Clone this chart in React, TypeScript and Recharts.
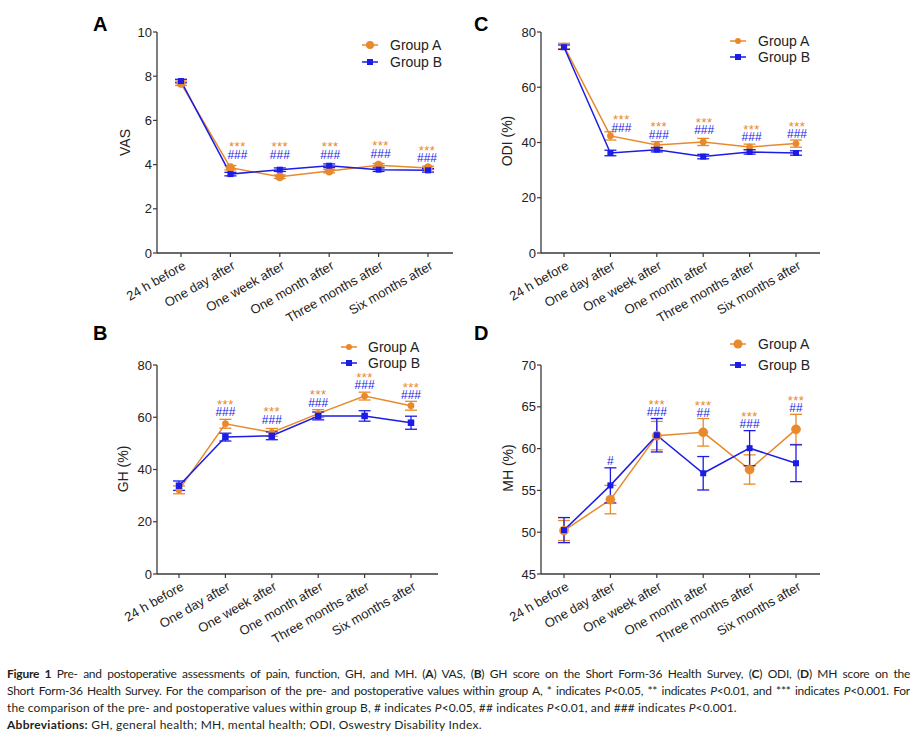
import React from 'react';
import { LineChart, Line, XAxis, YAxis, ErrorBar, LabelList } from 'recharts';

const ORANGE = '#E8892C';
const BLUE = '#1C1CE6';
const AXIS = '#3a3a3a';
const TEXT = '#222222';
const FONT = 'Arial, "Liberation Sans", Helvetica, sans-serif';
const CAPTION_FONT = 'Lato, "Open Sans", sans-serif';

const categories = [
  '24 h before',
  'One day after',
  'One week after',
  'One month after',
  'Three months after',
  'Six months after',
];
const seriesNames = ['Group A', 'Group B'];

// Panel A: VAS
const vasGroupA = [7.68, 3.86, 3.45, 3.71, 3.97, 3.85];
const vasGroupB = [7.78, 3.57, 3.77, 3.95, 3.77, 3.74];
const vasErrA = [0.1, 0.1, 0.08, 0.08, 0.08, 0.08];
const vasErrB = [0.08, 0.08, 0.08, 0.08, 0.08, 0.08];
const vasTicks = [0, 2, 4, 6, 8, 10];
const vasMarkLevel = [null, 4.47, 4.47, 4.47, 4.51, 4.29];
const vasStars = ['', '***', '***', '***', '***', '***'];
const vasHashes = ['', '###', '###', '###', '###', '###'];

// Panel C: ODI
const odiGroupA = [74.9, 42.4, 39.1, 40.2, 38.4, 39.6];
const odiGroupB = [74.5, 36.2, 37.4, 34.9, 36.6, 36.2];
const odiErrA = [1.0, 1.5, 1.2, 1.3, 1.0, 1.3];
const odiErrB = [0.8, 1.0, 0.8, 0.8, 0.8, 0.8];
const odiTicks = [0, 20, 40, 60, 80];
const odiMarkLevel = [null, 45.5, 43.0, 44.5, 42.1, 43.1];
const odiStars = ['', '***', '***', '***', '***', '***'];
const odiHashes = ['', '###', '###', '###', '###', '###'];

// Panel B: GH
const ghGroupA = [32.2, 57.5, 54.2, 61.4, 68.1, 64.4];
const ghGroupB = [33.8, 52.4, 52.9, 60.5, 60.5, 57.9];
const ghErrA = [1.5, 1.7, 1.5, 1.5, 1.5, 1.7];
const ghErrB = [1.8, 1.5, 1.5, 1.5, 2.0, 2.5];
const ghTicks = [0, 20, 40, 60, 80];
const ghMarkLevel = [null, 62.1, 59.2, 65.7, 72.3, 68.5];
const ghStars = ['', '***', '***', '***', '***', '***'];
const ghHashes = ['', '###', '###', '###', '###', '###'];

// Panel D: MH
const mhGroupA = [50.2, 53.9, 61.55, 61.95, 57.5, 62.3];
const mhGroupB = [50.25, 55.6, 61.6, 57.05, 60.05, 58.25];
const mhErrA = [1.2, 1.7, 1.7, 1.65, 1.75, 1.8];
const mhErrB = [1.5, 2.1, 2.0, 2.0, 2.1, 2.2];
const mhTicks = [45, 50, 55, 60, 65, 70];
const mhMarkLevel = [null, 58.5, 64.4, 64.3, 63.0, 64.9];
const mhStars = ['', '', '***', '***', '***', '***'];
const mhHashes = ['', '#', '###', '##', '###', '##'];

type Box = { left: number; top: number; width: number; height: number };
type Plot = { left: number; top: number; right: number; bottom: number };

type PanelCfg = {
  id: string;
  letter: string;
  yLabel: string;
  a: number[];
  b: number[];
  errA: number[];
  errB: number[];
  ticks: number[];
  level: (number | null)[];
  stars: string[];
  hashes: string[];
  annDx: number[];
  box: Box;
  plot: Plot;
  pad: { left: number; right: number };
  rA: number;
  sB: number;
  letterPos: { x: number; y: number };
  yLabelPos: { x: number; y: number };
  legend: { markerX: number; textX: number; rows: number[]; rA: number };
};

const panels: PanelCfg[] = [
  {
    id: 'A', letter: 'A', yLabel: 'VAS',
    a: vasGroupA, b: vasGroupB, errA: vasErrA, errB: vasErrB, ticks: vasTicks,
    level: vasMarkLevel, stars: vasStars, hashes: vasHashes, annDx: [0, 7, 0, 1, 2, -1],
    box: { left: 40, top: 0, width: 430, height: 340 },
    plot: { left: 157, top: 32, right: 453, bottom: 253 },
    pad: { left: 24, right: 25 }, rA: 4.3, sB: 6,
    letterPos: { x: 93, y: 31 }, yLabelPos: { x: 125, y: 142.5 },
    legend: { markerX: 370, textX: 390, rows: [45, 62], rA: 4 },
  },
  {
    id: 'C', letter: 'C', yLabel: 'ODI (%)',
    a: odiGroupA, b: odiGroupB, errA: odiErrA, errB: odiErrB, ticks: odiTicks,
    level: odiMarkLevel, stars: odiStars, hashes: odiHashes, annDx: [0, 11, 2, 1, 2, 1],
    box: { left: 470, top: 0, width: 370, height: 340 },
    plot: { left: 541, top: 32, right: 820, bottom: 253 },
    pad: { left: 23, right: 24 }, rA: 3.2, sB: 6,
    letterPos: { x: 474, y: 31 }, yLabelPos: { x: 507, y: 141 },
    legend: { markerX: 738, textX: 758, rows: [41, 57], rA: 3 },
  },
  {
    id: 'B', letter: 'B', yLabel: 'GH (%)',
    a: ghGroupA, b: ghGroupB, errA: ghErrA, errB: ghErrB, ticks: ghTicks,
    level: ghMarkLevel, stars: ghStars, hashes: ghHashes, annDx: [0, 0, 0, 0, 0, 0],
    box: { left: 40, top: 330, width: 430, height: 320 },
    plot: { left: 157, top: 365, right: 438, bottom: 574 },
    pad: { left: 22, right: 27 }, rA: 3.2, sB: 6.5,
    letterPos: { x: 93, y: 340 }, yLabelPos: { x: 123, y: 469 },
    legend: { markerX: 349, textX: 368, rows: [347, 363], rA: 3 },
  },
  {
    id: 'D', letter: 'D', yLabel: 'MH (%)',
    a: mhGroupA, b: mhGroupB, errA: mhErrA, errB: mhErrB, ticks: mhTicks,
    level: mhMarkLevel, stars: mhStars, hashes: mhHashes, annDx: [0, 0, 0, 0, 0, 0],
    box: { left: 470, top: 330, width: 370, height: 320 },
    plot: { left: 541, top: 365, right: 820, bottom: 574 },
    pad: { left: 23, right: 24 }, rA: 4.6, sB: 6,
    letterPos: { x: 474, y: 340 }, yLabelPos: { x: 508, y: 468 },
    legend: { markerX: 738, textX: 758, rows: [344, 365], rA: 4.5 },
  },
];

const XTick = (props: any) => {
  const { x, y, payload } = props;
  return (
    <g transform={`translate(${x + 1},${y + 1}) rotate(-30)`}>
      <text x={0} y={0} dy="0.72em" textAnchor="end" fontSize={13} fontFamily={FONT} fill={TEXT}>
        {payload.value}
      </text>
    </g>
  );
};

const makeCircleDot = (r: number) => (props: any) => {
  const { cx, cy, index } = props;
  if (cx == null || cy == null) return <g key={`ca-${index}`} />;
  return <circle key={`ca-${index}`} cx={cx} cy={cy} r={r} fill={ORANGE} stroke={ORANGE} strokeWidth={0.5} />;
};

const makeSquareDot = (s: number) => (props: any) => {
  const { cx, cy, index } = props;
  if (cx == null || cy == null) return <g key={`sb-${index}`} />;
  return <rect key={`sb-${index}`} x={cx - s / 2} y={cy - s / 2} width={s} height={s} fill={BLUE} />;
};

const makeAnnotation = (stars: string[], hashes: string[], dx: number[]) => (props: any) => {
  const { x, y, index, value } = props;
  if (value == null || x == null || y == null || isNaN(x) || isNaN(y)) return null;
  const cx = x + (dx[index] || 0);
  const s = stars[index];
  const h = hashes[index];
  if (!s && !h) return null;
  return (
    <text key={`ann-${index}`} textAnchor="middle" fontFamily={FONT}>
      {s ? (
        <tspan x={cx} y={y - 3} fontSize={13} fill={ORANGE} letterSpacing={0.5}>
          {s}
        </tspan>
      ) : null}
      {h ? (
        <tspan x={cx} y={y + 4.3} fontSize={12} fill={BLUE}>
          {h}
        </tspan>
      ) : null}
    </text>
  );
};

function Panel({ cfg }: { cfg: PanelCfg }) {
  const data = categories.map((cat, i) => ({
    cat,
    a: cfg.a[i],
    b: cfg.b[i],
    errA: cfg.errA[i],
    errB: cfg.errB[i],
    level: cfg.level[i],
  }));
  const { box, plot } = cfg;
  const xh = 70;
  const margin = {
    top: plot.top - box.top,
    right: box.left + box.width - plot.right,
    left: 0,
    bottom: box.top + box.height - plot.bottom - xh,
  };
  const domain = [cfg.ticks[0], cfg.ticks[cfg.ticks.length - 1]];
  return (
    <div style={{ position: 'absolute', left: box.left, top: box.top, width: box.width, height: box.height }}>
      <LineChart width={box.width} height={box.height} data={data} margin={margin}>
        <XAxis
          dataKey="cat"
          interval={0}
          height={xh}
          padding={cfg.pad}
          tick={(p: any) => <XTick {...p} />}
          tickSize={4}
          tickMargin={2}
          tickLine={{ stroke: AXIS, strokeWidth: 1.2 }}
          axisLine={{ stroke: AXIS, strokeWidth: 1.3 }}
        />
        <YAxis
          width={plot.left - box.left}
          type="number"
          domain={domain}
          ticks={cfg.ticks}
          interval={0}
          tickSize={4}
          tickMargin={1}
          tick={{ fontSize: 13, fill: TEXT, fontFamily: FONT }}
          tickLine={{ stroke: AXIS, strokeWidth: 1.2 }}
          axisLine={{ stroke: AXIS, strokeWidth: 1.3 }}
        />
        <Line
          dataKey="a"
          name={seriesNames[0]}
          stroke={ORANGE}
          strokeWidth={1.5}
          dot={makeCircleDot(cfg.rA)}
          activeDot={false}
          isAnimationActive={false}
        >
          <ErrorBar dataKey="errA" width={6} stroke={ORANGE} strokeWidth={1.3} direction="y" />
        </Line>
        <Line
          dataKey="b"
          name={seriesNames[1]}
          stroke={BLUE}
          strokeWidth={1.5}
          dot={makeSquareDot(cfg.sB)}
          activeDot={false}
          isAnimationActive={false}
        >
          <ErrorBar dataKey="errB" width={6} stroke={BLUE} strokeWidth={1.3} direction="y" />
        </Line>
        <Line
          dataKey="level"
          stroke="none"
          dot={false}
          activeDot={false}
          legendType="none"
          isAnimationActive={false}
        >
          <LabelList dataKey="level" content={makeAnnotation(cfg.stars, cfg.hashes, cfg.annDx)} />
        </Line>
      </LineChart>
    </div>
  );
}

function Overlay() {
  return (
    <svg
      width={918}
      height={660}
      style={{ position: 'absolute', left: 0, top: 0, pointerEvents: 'none' }}
    >
      {panels.map((cfg) => (
        <g key={`ov-${cfg.id}`}>
          <text x={cfg.letterPos.x} y={cfg.letterPos.y} fontSize={20} fontWeight="bold" fontFamily={FONT} fill="#000">
            {cfg.letter}
          </text>
          <text
            x={cfg.yLabelPos.x}
            y={cfg.yLabelPos.y}
            transform={`rotate(-90 ${cfg.yLabelPos.x} ${cfg.yLabelPos.y})`}
            textAnchor="middle"
            dominantBaseline="central"
            fontSize={14}
            fontFamily={FONT}
            fill={TEXT}
          >
            {cfg.yLabel}
          </text>
          {seriesNames.map((name, i) => {
            const y = cfg.legend.rows[i];
            const mx = cfg.legend.markerX;
            const color = i === 0 ? ORANGE : BLUE;
            return (
              <g key={`lg-${cfg.id}-${i}`}>
                <line x1={mx - 8} x2={mx + 8} y1={y} y2={y} stroke={color} strokeWidth={1.5} />
                {i === 0 ? (
                  <circle cx={mx} cy={y} r={cfg.legend.rA} fill={ORANGE} />
                ) : (
                  <rect x={mx - 3} y={y - 3} width={6} height={6} fill={BLUE} />
                )}
                <text x={cfg.legend.textX} y={y + 5} fontSize={14} fontFamily={FONT} fill={TEXT}>
                  {name}
                </text>
              </g>
            );
          })}
        </g>
      ))}
    </svg>
  );
}

const captionLine: React.CSSProperties = {
  whiteSpace: 'nowrap',
  height: 17,
  lineHeight: '17px',
};
const justified: React.CSSProperties = {
  ...captionLine,
  whiteSpace: 'normal',
  overflow: 'hidden',
  textAlign: 'justify',
  textAlignLast: 'justify',
  letterSpacing: -0.25,
};

function Caption() {
  const I = (s: string) => <i>{s}</i>;
  return (
    <div
      style={{
        position: 'absolute',
        left: 7,
        top: 665,
        width: 903,
        fontFamily: CAPTION_FONT,
        fontSize: 12,
        color: '#231f20',
      }}
    >
      <div style={justified}>
        <b>Figure 1</b> Pre- and postoperative assessments of pain, function, GH, and MH. (<b>A</b>) VAS, (<b>B</b>) GH score on
        the Short Form-36 Health Survey, (<b>C</b>) ODI, (<b>D</b>) MH score on the
      </div>
      <div style={justified}>
        Short Form-36 Health Survey. For the comparison of the pre- and postoperative values within group A, * indicates {I('P')}&lt;0.05,
        ** indicates {I('P')}&lt;0.01, and *** indicates {I('P')}&lt;0.001. For
      </div>
      <div style={{ ...captionLine, letterSpacing: 0.1 }}>
        the comparison of the pre- and postoperative values within group B, # indicates {I('P')}&lt;0.05, ## indicates {I('P')}&lt;0.01,
        and ### indicates {I('P')}&lt;0.001.
      </div>
      <div style={{ ...captionLine, letterSpacing: 0.25 }}>
        <b>Abbreviations:</b> GH, general health; MH, mental health; ODI, Oswestry Disability Index.
      </div>
    </div>
  );
}

export default function App() {
  return (
    <div style={{ position: 'absolute', left: 0, top: 0, width: 918, height: 738, background: '#ffffff', overflow: 'hidden' }}>
      {panels.map((cfg) => (
        <Panel key={cfg.id} cfg={cfg} />
      ))}
      <Overlay />
      <Caption />
    </div>
  );
}
